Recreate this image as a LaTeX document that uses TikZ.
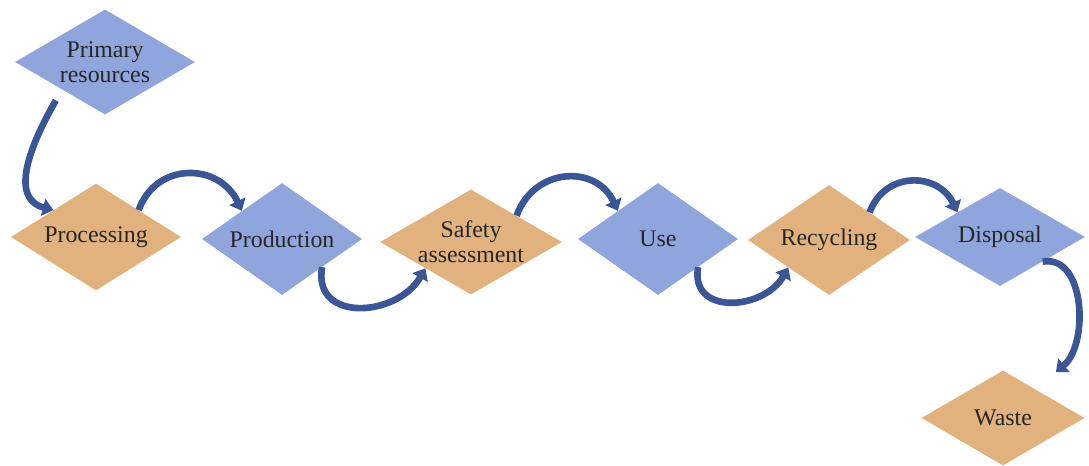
\documentclass[tikz,border=0pt]{standalone}
\usepackage{fontspec}
\newfontfamily\stagefont{Liberation Serif}
\usetikzlibrary{shapes.geometric,arrows.meta}
\definecolor{stepblue}{RGB}{143,165,220}
\definecolor{steporange}{RGB}{226,178,126}
\definecolor{flowblue}{RGB}{59,86,150}
\newlength{\unitlen}\setlength{\unitlen}{0.0265cm}
\tikzset{
  stagebox/.style={diamond,draw=none,inner sep=0pt,minimum width=170\unitlen,minimum height=107\unitlen},
  bluestage/.style={stagebox,fill=stepblue},
  orangestage/.style={stagebox,fill=steporange},
  flow/.style={draw=flowblue,line width=5pt,-{Triangle[width=13pt,length=8pt]}},
  every label/.style={font=\stagefont\fontsize{18}{19}\selectfont,align=center,text=black!85}
}
\begin{document}
\begin{tikzpicture}[x=0.0265cm,y=-0.0265cm]%life cycle
\useasboundingbox (0,0) rectangle (1089,465);
\node[bluestage,minimum width=180\unitlen,minimum height=105\unitlen,label={center:Primary\\resources}] (prim) at (105,62) {};
\node[orangestage,label={center:Processing}] (proc) at (96,237) {};
\node[bluestage,minimum width=160\unitlen,minimum height=112\unitlen,label={center:Production}] (prod) at (282,239) {};
\node[orangestage,minimum width=182\unitlen,minimum height=105\unitlen,label={center:Safety\\assessment}] (safe) at (471,242) {};
\node[bluestage,minimum width=160\unitlen,minimum height=112\unitlen,label={center:Use}] (use) at (658,239) {};
\node[orangestage,minimum width=162\unitlen,minimum height=110\unitlen,label={center:Recycling}] (recy) at (829,240) {};
\node[bluestage,minimum height=98\unitlen,label={center:Disposal}] (disp) at (1000,237) {};
\node[orangestage,minimum width=163\unitlen,minimum height=95\unitlen,label={center:Waste}] (waste) at (1003,418) {};
\draw[flow] (prim.south west) ++(-4,12) to[out=240,in=165,looseness=1.1] (proc.north west);
\draw[flow] (proc.north east) to[out=70,in=115,looseness=1.3] (prod.north west);
\draw[flow] (prod.south east) to[out=-100,in=-120,looseness=1.4] (safe.south west);
\draw[flow] (safe.north east) to[out=70,in=115,looseness=1.3] (use.north west);
\draw[flow] (use.south east) to[out=-100,in=-120,looseness=1.4] (recy.south west);
\draw[flow] (recy.north east) to[out=70,in=115,looseness=1.3] (disp.north west);
\draw[flow] (disp.south east) to[out=10,in=40] ([xshift=12\unitlen,yshift=22\unitlen]waste.north east);
\end{tikzpicture}
\end{document}
